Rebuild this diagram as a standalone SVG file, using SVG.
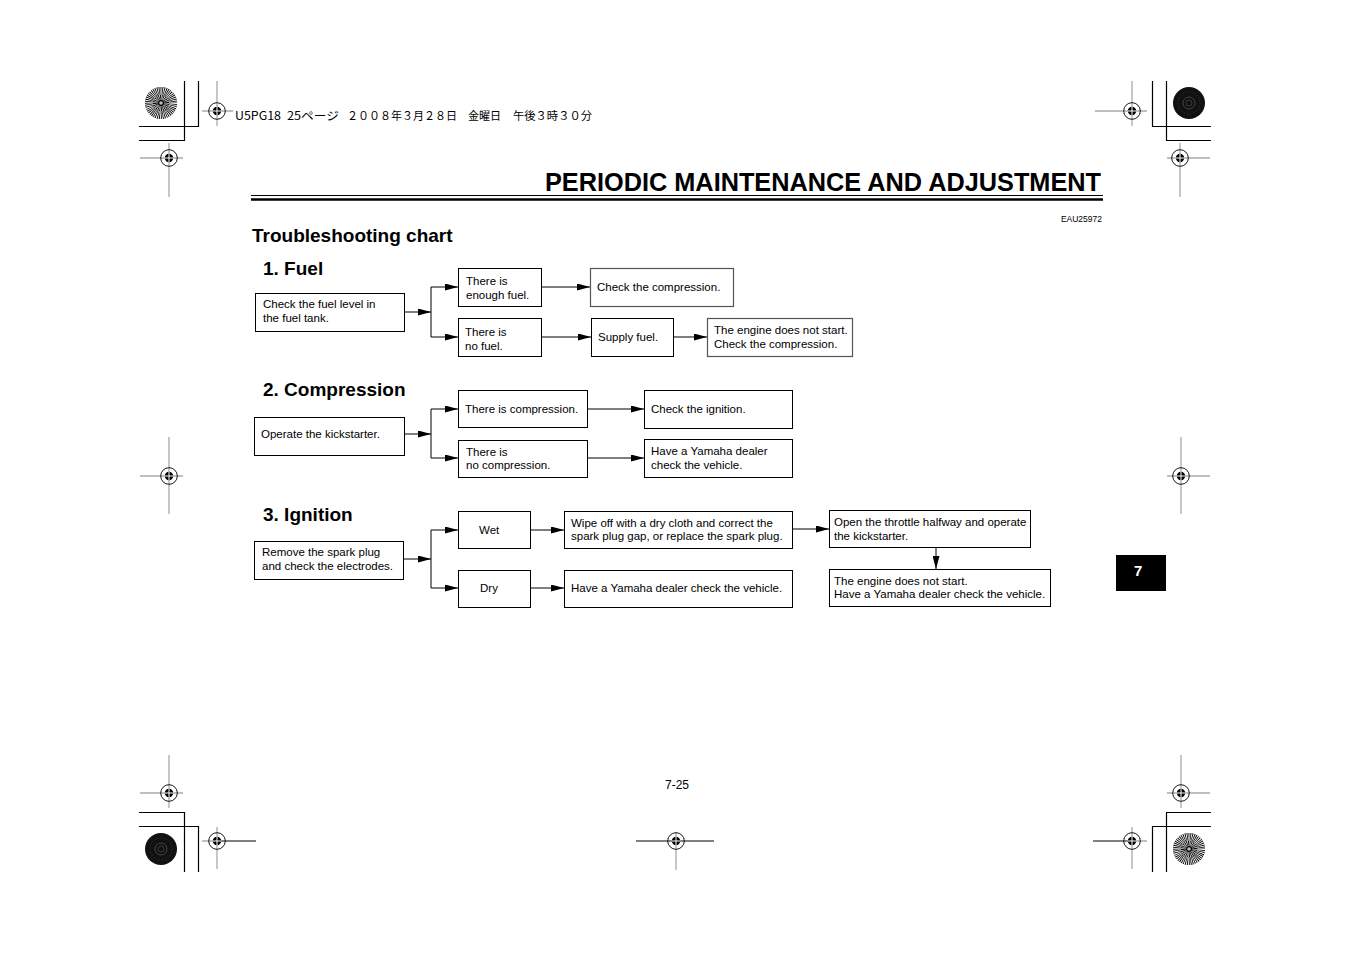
<svg xmlns="http://www.w3.org/2000/svg" width="1351" height="954" viewBox="0 0 1351 954">
<style>
.bx{fill:#fff;stroke:#000;stroke-width:1}
.bxg{fill:#fff;stroke:#555;stroke-width:1.2}
.t{font-family:"Liberation Sans",Arial,sans-serif;font-size:11.5px;fill:#000}
.h{font-family:"Liberation Sans",Arial,sans-serif;font-weight:bold;font-size:19px;fill:#000}
.jp{font-family:"Noto Sans CJK JP",sans-serif;font-size:11.5px;fill:#000}
.ln{fill:none;stroke:#000;stroke-width:1}
.crop{fill:none;stroke:#000;stroke-width:1.2}
.rg{stroke:#aaa;stroke-width:1.3;fill:none}
.rk{stroke:#000;stroke-width:1;fill:none}
.rc{fill:none;stroke:#000;stroke-width:0.9}
</style>
<defs>
<marker id="ar" markerUnits="userSpaceOnUse" markerWidth="13" markerHeight="7" refX="13" refY="3.5" orient="auto">
<path d="M0,0 L13,3.5 L0,7 z" fill="#000"/>
</marker>
<g id="reg">
<circle r="8.3" class="rc"/>
<circle r="4.2" fill="#000"/>
<path d="M-4.5,0 H4.5 M0,-4.5 V4.5" stroke="#fff" stroke-width="1"/>
</g>
<g id="burst">
<circle r="16" fill="#000"/>
<circle r="12" fill="none" stroke="#fff" stroke-width="8" stroke-dasharray="0.8 0.77"/>
<circle r="5.5" fill="none" stroke="#fff" stroke-width="5" stroke-dasharray="0.6 0.8"/>
<circle r="1.8" fill="#bbb"/>
</g>
<g id="dark">
<circle r="16" fill="#111"/>
<circle r="11" fill="none" stroke="#555" stroke-width="0.6" stroke-dasharray="1 2"/>
<circle r="6" fill="none" stroke="#666" stroke-width="0.6"/>
<circle r="3" fill="none" stroke="#555" stroke-width="0.6"/>
</g>
</defs>
<rect width="1351" height="954" fill="#fff"/>

<g id="printmarks">
<path class="crop" d="M198.5,81 V126.5 H139 M184.5,81 V140.5 H139"/>
<path class="crop" d="M1152.5,81 V126.5 H1211 M1166.5,81 V140.5 H1211"/>
<path class="crop" d="M184.5,872 V812.5 H139 M198.5,872 V826.5 H139"/>
<path class="crop" d="M1166.5,872 V812.5 H1211 M1152.5,872 V826.5 H1211"/>
<use href="#burst" x="161" y="103"/>
<use href="#dark" x="1189" y="103"/>
<use href="#dark" x="161" y="849"/>
<use href="#burst" x="1189" y="849"/>
<path class="rg" d="M202,111 H233 M217,81 V126"/>
<use href="#reg" x="217" y="111"/>
<path class="rg" d="M1095,111 H1147 M1132,81 V126"/>
<use href="#reg" x="1132" y="111"/>
<path class="rg" d="M140,158 H183 M169,143 V197"/>
<use href="#reg" x="169" y="158"/>
<path class="rg" d="M1167,158 H1210 M1180,143 V197"/>
<use href="#reg" x="1180" y="158"/>
<path class="rg" d="M140,476 H183 M169,437 V514"/>
<use href="#reg" x="169" y="476"/>
<path class="rg" d="M1167,476 H1210 M1181,437 V514"/>
<use href="#reg" x="1181" y="476"/>
<path class="rg" d="M140,793 H183 M169,755 V808"/>
<use href="#reg" x="169" y="793"/>
<path class="rg" d="M1167,793 H1210 M1181,755 V808"/>
<use href="#reg" x="1181" y="793"/>
<path class="rk" d="M217,841 H256"/><path class="rg" d="M202,841 H217 M217,827 V869"/>
<use href="#reg" x="217" y="841"/>
<path class="rk" d="M636,841 H714"/><path class="rg" d="M676,832 V870"/>
<use href="#reg" x="676" y="841"/>
<path class="rk" d="M1093,841 H1132"/><path class="rg" d="M1132,841 H1147 M1132,827 V869"/>
<use href="#reg" x="1132" y="841"/>
<text class="jp" x="235" y="120" textLength="46" lengthAdjust="spacingAndGlyphs">U5PG18</text>
<text class="jp" x="287" y="120" textLength="52" lengthAdjust="spacingAndGlyphs">25ページ</text>
<text class="jp" x="347" y="120" textLength="110" lengthAdjust="spacingAndGlyphs">２００８年３月２８日</text>
<text class="jp" x="468" y="120" textLength="33" lengthAdjust="spacingAndGlyphs">金曜日</text>
<text class="jp" x="513" y="120" textLength="79" lengthAdjust="spacingAndGlyphs">午後３時３０分</text>
</g>

<g id="header">
<text x="1101" y="191" text-anchor="end" font-family="'Liberation Sans',Arial,sans-serif" font-weight="bold" font-size="26" textLength="556" lengthAdjust="spacingAndGlyphs" fill="#000">PERIODIC MAINTENANCE AND ADJUSTMENT</text>
<path d="M251,195.5 H1103" stroke="#000" stroke-width="1"/>
<path d="M251,199.5 H1103" stroke="#000" stroke-width="2.6"/>
<text x="1102" y="222" text-anchor="end" font-family="'Liberation Sans',Arial,sans-serif" font-size="8.5" fill="#000">EAU25972</text>
<text x="252" y="242" font-family="'Liberation Sans',Arial,sans-serif" font-weight="bold" font-size="19" fill="#000">Troubleshooting chart</text>
<text x="263" y="275" class="h">1. Fuel</text>
<text x="263" y="396" class="h">2. Compression</text>
<text x="263" y="521" class="h">3. Ignition</text>
</g>

<g id="connectors">
<path class="ln" d="M404,312 H431" marker-end="url(#ar)"/>
<path class="ln" d="M431,287 V337"/>
<path class="ln" d="M431,287 H458" marker-end="url(#ar)"/>
<path class="ln" d="M431,337 H458" marker-end="url(#ar)"/>
<path class="ln" d="M541,287 H590" marker-end="url(#ar)"/>
<path class="ln" d="M541,337 H591" marker-end="url(#ar)"/>
<path class="ln" d="M673,337 H707" marker-end="url(#ar)"/>

<path class="ln" d="M404,434 H431" marker-end="url(#ar)"/>
<path class="ln" d="M431,409 V458"/>
<path class="ln" d="M431,409 H458" marker-end="url(#ar)"/>
<path class="ln" d="M431,458 H458" marker-end="url(#ar)"/>
<path class="ln" d="M587,409 H644" marker-end="url(#ar)"/>
<path class="ln" d="M587,458 H644" marker-end="url(#ar)"/>

<path class="ln" d="M403,559 H431" marker-end="url(#ar)"/>
<path class="ln" d="M431,530 V588"/>
<path class="ln" d="M431,530 H458" marker-end="url(#ar)"/>
<path class="ln" d="M431,588 H458" marker-end="url(#ar)"/>
<path class="ln" d="M530,530 H564" marker-end="url(#ar)"/>
<path class="ln" d="M530,588 H564" marker-end="url(#ar)"/>
<path class="ln" d="M792,529 H829" marker-end="url(#ar)"/>
<path class="ln" d="M936,547 V569" marker-end="url(#ar)"/>
</g>

<g id="fuel-check"><rect class="bx" x="255.5" y="293.5" width="149" height="38"/><text class="t" x="263" y="308">Check the fuel level in</text><text class="t" x="263" y="322">the fuel tank.</text></g>
<g id="fuel-enough"><rect class="bx" x="458.5" y="268.5" width="83" height="38"/><text class="t" x="466" y="285">There is</text><text class="t" x="466" y="299">enough fuel.</text></g>
<g id="fuel-checkcomp"><rect class="bxg" x="590.5" y="268.5" width="143" height="38"/><text class="t" x="597" y="291">Check the compression.</text></g>
<g id="fuel-none"><rect class="bx" x="458.5" y="318.5" width="83" height="38"/><text class="t" x="465" y="336">There is</text><text class="t" x="465" y="350">no fuel.</text></g>
<g id="fuel-supply"><rect class="bx" x="591.5" y="318.5" width="82" height="38"/><text class="t" x="598" y="341">Supply fuel.</text></g>
<g id="fuel-nostart"><rect class="bxg" x="707.5" y="318.5" width="145" height="38"/><text class="t" x="714" y="334">The engine does not start.</text><text class="t" x="714" y="348">Check the compression.</text></g>

<g id="comp-operate"><rect class="bx" x="254.5" y="417.5" width="150" height="38"/><text class="t" x="261" y="438">Operate the kickstarter.</text></g>
<g id="comp-yes"><rect class="bx" x="458.5" y="390.5" width="129" height="37"/><text class="t" x="465" y="413">There is compression.</text></g>
<g id="comp-ignition"><rect class="bx" x="644.5" y="390.5" width="148" height="38"/><text class="t" x="651" y="413">Check the ignition.</text></g>
<g id="comp-no"><rect class="bx" x="458.5" y="440.5" width="129" height="37"/><text class="t" x="466" y="456">There is</text><text class="t" x="466" y="469">no compression.</text></g>
<g id="comp-dealer"><rect class="bx" x="644.5" y="439.5" width="148" height="38"/><text class="t" x="651" y="455">Have a Yamaha dealer</text><text class="t" x="651" y="469">check the vehicle.</text></g>

<g id="ign-remove"><rect class="bx" x="254.5" y="541.5" width="149" height="38"/><text class="t" x="262" y="556">Remove the spark plug</text><text class="t" x="262" y="570">and check the electrodes.</text></g>
<g id="ign-wet"><rect class="bx" x="458.5" y="511.5" width="72" height="37"/><text class="t" x="479" y="534">Wet</text></g>
<g id="ign-wipe"><rect class="bx" x="564.5" y="511.5" width="228" height="37"/><text class="t" x="571" y="527">Wipe off with a dry cloth and correct the</text><text class="t" x="571" y="540">spark plug gap, or replace the spark plug.</text></g>
<g id="ign-throttle"><rect class="bx" x="829.5" y="510.5" width="201" height="37"/><text class="t" x="834" y="526">Open the throttle halfway and operate</text><text class="t" x="834" y="540">the kickstarter.</text></g>
<g id="ign-dry"><rect class="bx" x="458.5" y="570.5" width="72" height="37"/><text class="t" x="480" y="592">Dry</text></g>
<g id="ign-dealer"><rect class="bx" x="564.5" y="570.5" width="228" height="37"/><text class="t" x="571" y="592">Have a Yamaha dealer check the vehicle.</text></g>
<g id="ign-nostart"><rect class="bx" x="829.5" y="569.5" width="221" height="37"/><text class="t" x="834" y="585">The engine does not start.</text><text class="t" x="834" y="598">Have a Yamaha dealer check the vehicle.</text></g>

<g id="tab"><rect x="1116" y="555" width="50" height="36" fill="#000"/><text x="1134" y="576" font-family="'Liberation Sans',Arial,sans-serif" font-weight="bold" font-size="15" fill="#fff">7</text></g>
<text x="677" y="789" text-anchor="middle" font-family="'Liberation Sans',Arial,sans-serif" font-size="12" fill="#000">7-25</text>
</svg>
